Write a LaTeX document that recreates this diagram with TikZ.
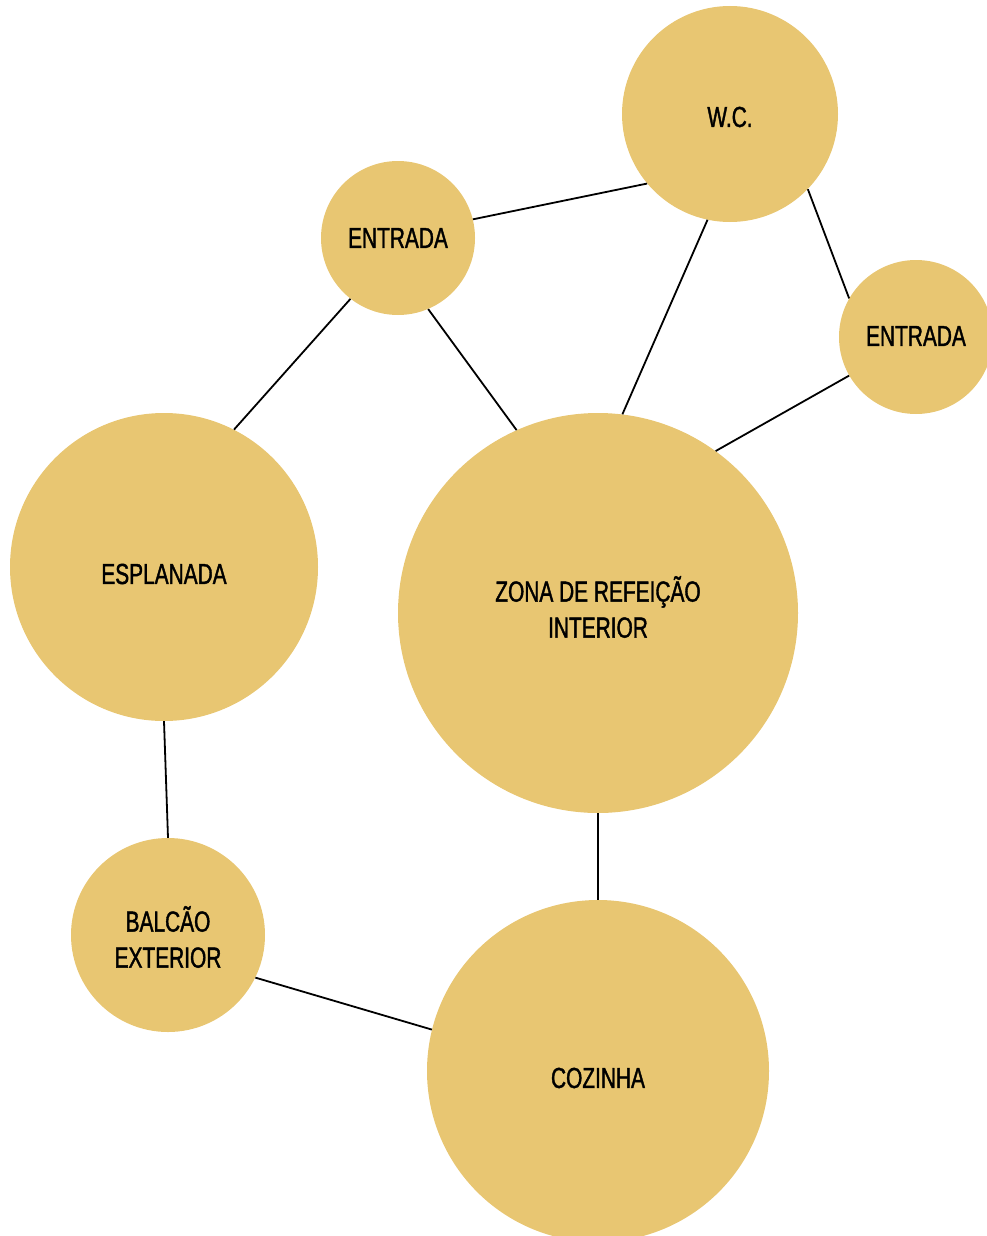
\documentclass[tikz,border=0pt]{standalone}
\usepackage{fontspec}
\setmainfont{Liberation Sans}[FakeStretch=0.72,FakeBold=1.3]
\definecolor{gold}{HTML}{E8C672}
\begin{document}
\begin{tikzpicture}[x=1pt,y=-1pt,
  room/.style={circle,fill=gold,draw=none,inner sep=0pt},
  lbl/.style={align=center,font=\fontsize{29}{36}\selectfont,text=black,inner sep=0pt},
  link/.style={line width=1.8pt,black}]
\useasboundingbox (0,0) rectangle (987,1236);
\node[room,minimum size=216pt,label={[lbl,yshift=-3pt]center:W.C.}] (wc) at (730,114) {};
\node[room,minimum size=154pt,label={[lbl]center:ENTRADA}] (ent1) at (398,238) {};
\node[room,minimum size=154pt,label={[lbl,yshift=1pt]center:ENTRADA}] (ent2) at (916,337) {};
\node[room,minimum size=308pt,label={[lbl,yshift=-7pt]center:ESPLANADA}] (esp) at (164,567) {};
\node[room,minimum size=400pt,label={[lbl,yshift=6pt]center:ZONA DE REFEIÇÃO\\INTERIOR}] (zona) at (598,613) {};
\node[room,minimum size=194pt,label={[lbl,yshift=-2pt]center:BALCÃO\\EXTERIOR}] (balc) at (168,935) {};
\node[room,minimum size=342pt,label={[lbl,yshift=-7pt]center:COZINHA}] (coz) at (598,1071) {};
\draw[link] (ent1.14) -- (wc.220);
\draw[link] (wc.258) -- (zona.83);
\draw[link] (wc.316) -- (ent2.150);
\draw[link] (ent1.232) -- (esp.63);
\draw[link] (ent1.293) -- (zona.114);
\draw[link] (ent2.210) -- (zona.54);
\draw[link] (zona.270) -- (coz.90);
\draw[link] (esp.270) -- (balc.90);
\draw[link] (balc.334) -- (coz.166);
\end{tikzpicture}
\end{document}
